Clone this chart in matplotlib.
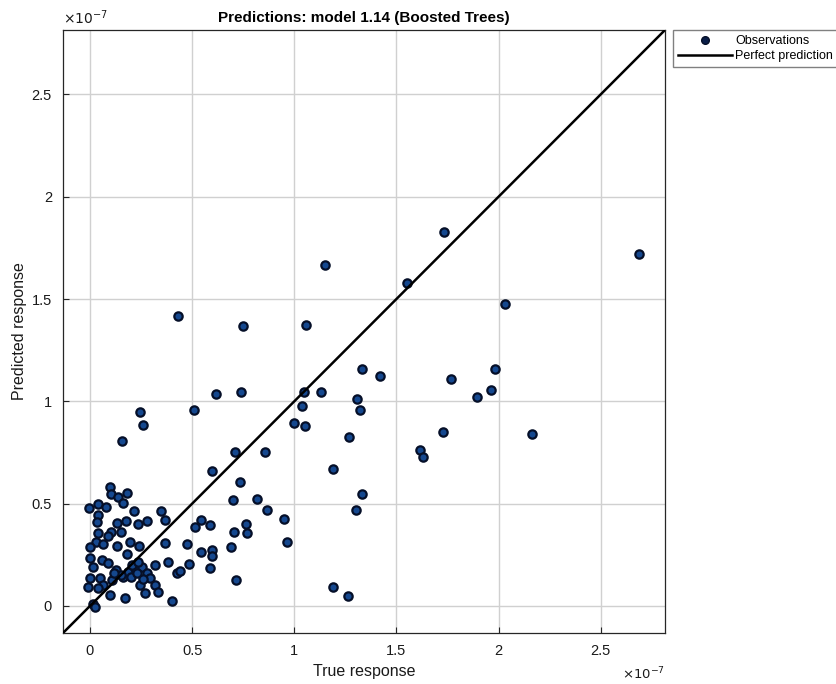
import numpy as np
import matplotlib
matplotlib.use("Agg")
from matplotlib import pyplot as plt
from matplotlib.ticker import MultipleLocator, FormatStrFormatter
from matplotlib.lines import Line2D

plt.rcParams['font.family'] = ['Liberation Sans', 'DejaVu Sans']

# values in units of 1e-7
true_resp = [
    1.731, 2.689, 1.149, 1.550, 2.034, 0.430, 0.748, 1.056, 1.418, 1.330,
    1.985, 1.765, 1.961, 1.897, 1.046, 1.130, 1.037, 1.306, 1.320, 0.998,
    1.051, 1.267, 1.726, 2.166, 1.614, 1.628, 0.856, 1.188, 0.817, 0.866,
    0.949, 0.963, 1.330, 1.301, 1.188, 1.262, 0.616, 0.738, 0.509, 0.244,
    0.259, 0.156, 0.709, 0.733, 0.699, 0.597, 0.367, 0.543, 0.513, 0.587,
    0.763, 0.704, 0.768, 0.367, 0.474, 0.690, 0.543, 0.597, 0.597, 0.381,
    0.484, 0.425, 0.440, 0.587, 0.714, 0.401,
    0.098, 0.103, 0.137, 0.181, 0.161, -0.005, 0.039, 0.078, 0.215, 0.347,
    0.039, 0.034, 0.132, 0.176, 0.235, 0.279, 0.039, 0.103, 0.152, 0.088,
    0.029, 0.064, 0.000, 0.132, 0.196, 0.240, 0.181, 0.000, 0.059, 0.088,
    0.015, 0.127, 0.000, 0.049, 0.064, 0.039, -0.010, 0.108, 0.161, 0.186,
    0.220, 0.254, 0.279, 0.293, 0.245, 0.318, 0.333, 0.269, 0.171, 0.098,
    0.318, 0.205, 0.235, 0.015, 0.024, 0.150, 0.200, 0.230, 0.260, 0.120,
]
pred_resp = [
    1.828, 1.720, 1.667, 1.579, 1.476, 1.417, 1.369, 1.373, 1.124, 1.158,
    1.158, 1.109, 1.056, 1.021, 1.046, 1.046, 0.978, 1.012, 0.958, 0.894,
    0.880, 0.826, 0.850, 0.841, 0.762, 0.728, 0.753, 0.670, 0.523, 0.469,
    0.425, 0.313, 0.547, 0.469, 0.093, 0.049, 1.036, 1.046, 0.958, 0.948,
    0.885, 0.806, 0.753, 0.606, 0.518, 0.660, 0.420, 0.420, 0.386, 0.396,
    0.401, 0.362, 0.357, 0.308, 0.303, 0.288, 0.264, 0.274, 0.244, 0.215,
    0.205, 0.161, 0.171, 0.186, 0.127, 0.024,
    0.582, 0.547, 0.533, 0.552, 0.503, 0.479, 0.499, 0.484, 0.464, 0.464,
    0.445, 0.411, 0.406, 0.415, 0.401, 0.415, 0.357, 0.362, 0.362, 0.342,
    0.313, 0.303, 0.288, 0.293, 0.313, 0.293, 0.254, 0.235, 0.225, 0.210,
    0.191, 0.176, 0.137, 0.137, 0.103, 0.088, 0.093, 0.127, 0.142, 0.166,
    0.186, 0.191, 0.161, 0.137, 0.103, 0.103, 0.068, 0.064, 0.039, 0.054,
    0.200, 0.200, 0.215, 0.010, -0.005, 0.150, 0.140, 0.160, 0.130, 0.160,
]

lim = (-0.132, 2.815)

fig = plt.figure(figsize=(8.37, 6.84), dpi=100, facecolor='white')
ax = fig.add_axes([63/837, 1-633/684, 602/837, 603/684])

# observations
ax.scatter(true_resp, pred_resp, s=36, facecolor='#15488f', edgecolor='#050f28',
           linewidths=1.6, zorder=3)
# perfect prediction line
ax.plot(lim, lim, color='black', lw=1.8, zorder=4)

ax.set_xlim(lim)
ax.set_ylim(lim)
ax.xaxis.set_major_locator(MultipleLocator(0.5))
ax.yaxis.set_major_locator(MultipleLocator(0.5))
ax.xaxis.set_major_formatter(FormatStrFormatter('%g'))
ax.yaxis.set_major_formatter(FormatStrFormatter('%g'))
ax.grid(True, color='#d0d0d0', lw=1.0, zorder=0)
ax.set_axisbelow(True)
ax.tick_params(direction='in', length=4, width=0.8, labelsize=10.5, pad=8,
               colors='#262626', labelcolor='#1a1a1a')
for sp in ax.spines.values():
    sp.set_color('#262626')
    sp.set_linewidth(0.9)

ax.set_xlabel('True response', fontsize=11.5, color='#1a1a1a', labelpad=4)
ax.set_ylabel('Predicted response', fontsize=11.5, color='#1a1a1a', labelpad=3)
ax.set_title('Predictions: model 1.14 (Boosted Trees)', fontsize=11,
             fontweight='bold', pad=6)

# axis multipliers
fig.text(63/837, 1-18/684, r'$\times10^{-7}$', fontsize=10, color='#1a1a1a',
         ha='left', va='center')
fig.text(665/837, 1-674/684, r'$\times10^{-7}$', fontsize=9.5, color='#1a1a1a',
         ha='right', va='center')

handles = [
    Line2D([], [], ls='none', marker='o', markersize=5.5, markerfacecolor='#0a1e48',
           markeredgecolor='#050f28'),
    Line2D([], [], color='black', lw=1.8),
]
fig.legend(handles, ['Observations', 'Perfect prediction'], loc='upper left',
           bbox_to_anchor=(673/837, 1-30/684), fontsize=9, frameon=True,
           fancybox=False, edgecolor='#808080', borderpad=0.4, labelspacing=0.25,
           handlelength=4.3, handletextpad=0.3, borderaxespad=0, framealpha=1)

plt.savefig('out.png', dpi=100)
